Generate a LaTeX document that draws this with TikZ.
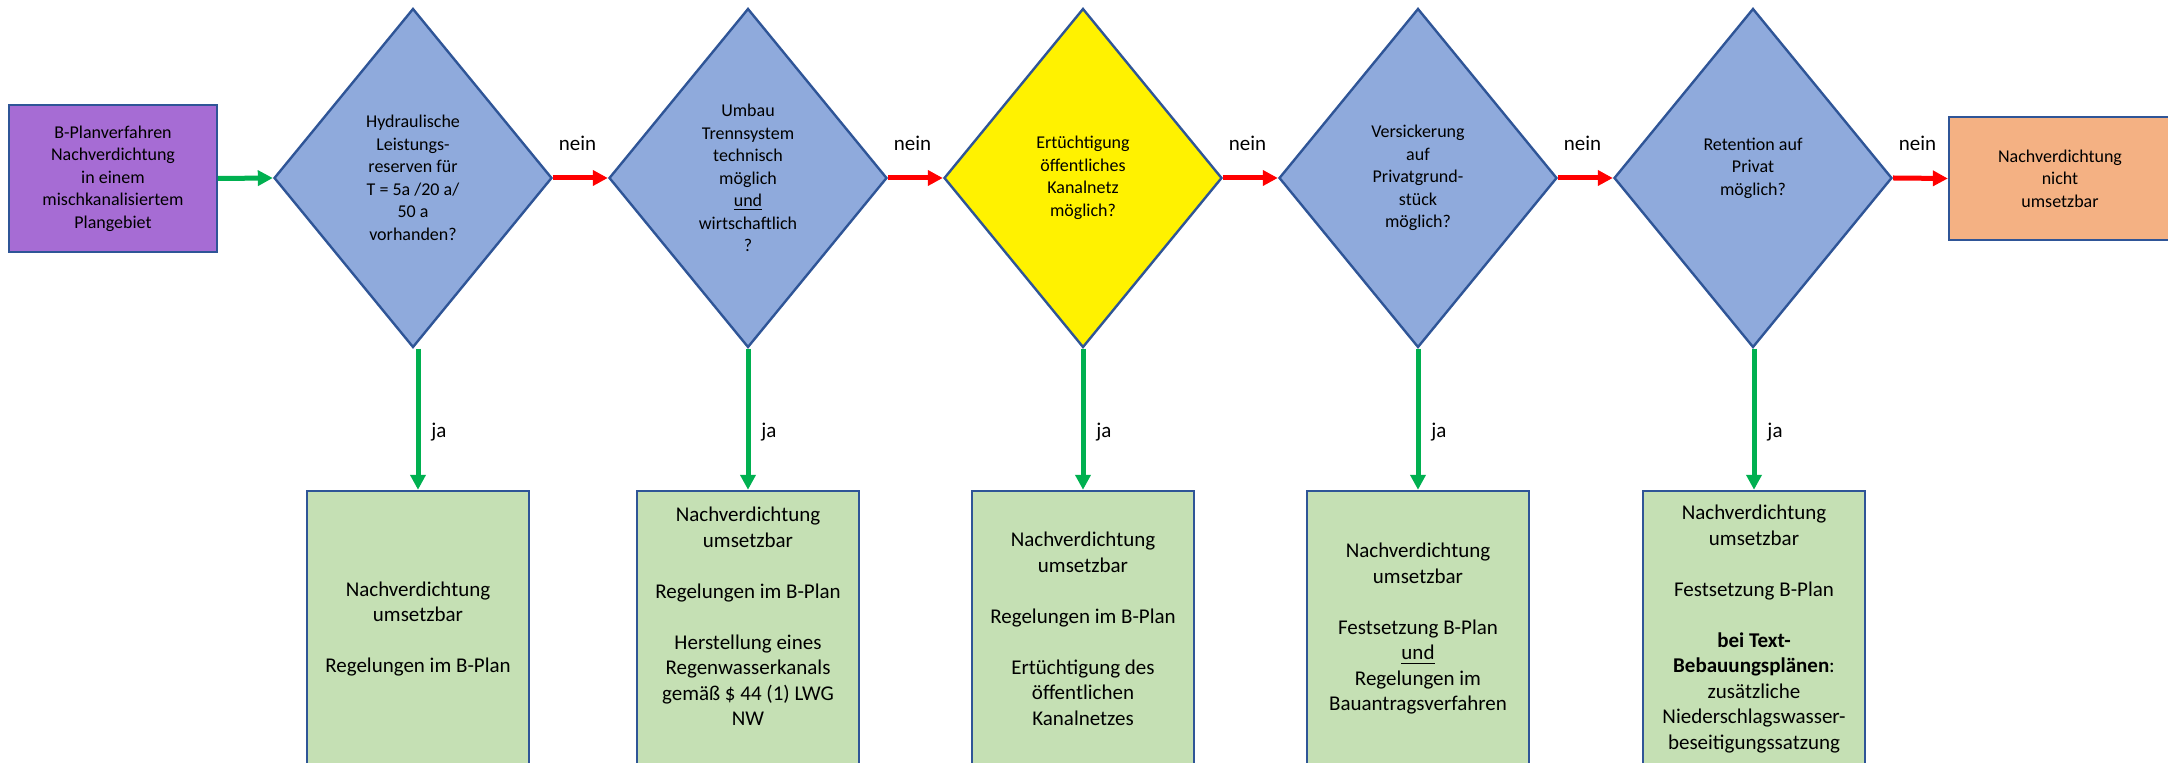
\documentclass[tikz,border=0pt]{standalone}
\usepackage{fontspec}
\setmainfont{Carlito}
\usetikzlibrary{shapes.geometric, arrows.meta}

\definecolor{rahmen}{RGB}{47,85,151}
\definecolor{frageblau}{RGB}{143,170,220}
\definecolor{startlila}{RGB}{166,108,212}
\definecolor{okgruen}{RGB}{197,224,180}
\definecolor{endorange}{RGB}{244,177,131}
\definecolor{pfeilgruen}{RGB}{0,176,80}
\definecolor{pfeilrot}{RGB}{255,0,0}

\begin{document}
\begin{tikzpicture}[x = 0.5pt, y = -0.5pt,
	frage/.style = {diamond, draw = rahmen, line width = 1.2pt, fill = frageblau, aspect = 0.82, inner sep = 0pt, minimum width = 139pt, minimum height = 169.5pt, align = center, font = \fontsize{9}{11.25}\selectfont},
	ergebnis/.style = {rectangle, draw = rahmen, line width = 1.2pt, fill = okgruen, minimum width = 111pt, minimum height = 138pt, align = center, font = \fontsize{10.5}{12.75}\selectfont},
	ja/.style = {draw = pfeilgruen, line width = 2.5pt, -{Triangle[length = 7.5pt, width = 7.5pt]}},
	nein/.style = {draw = pfeilrot, line width = 2.5pt, -{Triangle[length = 7.5pt, width = 7.5pt]}},
	neinlbl/.style = {midway, xshift = -1.5pt, yshift = 17.5pt, font = \fontsize{10.5}{12.75}\selectfont},
	jalbl/.style = {midway, xshift = 10.5pt, yshift = -6.5pt, font = \fontsize{10.5}{12.75}\selectfont}]
	\useasboundingbox (0, 0) rectangle (2168, 763);

	\node [rectangle, draw = rahmen, line width = 1.2pt, fill = startlila, minimum width = 104pt, minimum height = 73.5pt, align = center, font = \fontsize{9}{11.25}\selectfont] (start) at (113, 178.5) {B-Planverfahren\\Nachverdichtung\\in einem\\mischkanalisiertem\\Plangebiet};

	\node [frage] (hydraulik) at (413, 178) {Hydraulische\\Leistungs-\\reserven für\\T = 5a /20 a/\\50 a\\vorhanden?};
	\node [frage] (umbau) at (748, 178) {Umbau\\Trennsystem\\technisch\\möglich\\\underline{und}\\wirtschaftlich\\?};
	\node [frage, fill = yellow] (kanalnetz) at (1083, 178) {Ertüchtigung\\öffentliches\\Kanalnetz\\möglich?};
	\node [frage] (versickerung) at (1418, 178) {Versickerung\\auf\\Privatgrund-\\stück\\möglich?};
	\node [frage] (retention) at (1753, 178) {Retention auf\\Privat\\möglich?\\~};

	\node [rectangle, draw = rahmen, line width = 1.2pt, fill = endorange, minimum width = 111pt, minimum height = 61.5pt, align = center, font = \fontsize{9}{11.25}\selectfont] (nicht) at (2060, 178.5) {Nachverdichtung\\nicht\\umsetzbar};

	\node [ergebnis] (erg1) at (418, 629) {Nachverdichtung\\umsetzbar\\[12.75pt]Regelungen im B-Plan};
	\node [ergebnis] (erg2) at (748, 629) {Nachverdichtung\\umsetzbar\\[12.75pt]Regelungen im B-Plan\\[12.75pt]Herstellung eines\\Regenwasserkanals\\gemäß \$ 44 (1) LWG\\NW\\~};
	\node [ergebnis] (erg3) at (1083, 629) {Nachverdichtung\\umsetzbar\\[12.75pt]Regelungen im B-Plan\\[12.75pt]Ertüchtigung des\\öffentlichen\\Kanalnetzes};
	\node [ergebnis] (erg4) at (1418, 629) {Nachverdichtung\\umsetzbar\\[12.75pt]Festsetzung B-Plan\\\underline{und}\\Regelungen im\\Bauantragsverfahren};
	\node [ergebnis] (erg5) at (1754, 629) {Nachverdichtung\\umsetzbar\\[12.75pt]Festsetzung B-Plan\\[12.75pt]\textbf{bei Text-}\\\textbf{Bebauungsplänen}:\\zusätzliche\\Niederschlagswasser-\\beseitigungssatzung};

	% nein - Kette
	\draw [ja] (start.east) -- (hydraulik.west);
	\draw [nein] (hydraulik.east) -- node [neinlbl] {nein} (umbau.west);
	\draw [nein] (umbau.east) -- node [neinlbl] {nein} (kanalnetz.west);
	\draw [nein] (kanalnetz.east) -- node [neinlbl] {nein} (versickerung.west);
	\draw [nein] (versickerung.east) -- node [neinlbl] {nein} (retention.west);
	\draw [nein] (retention.east) -- node [neinlbl] {nein} (nicht.west);

	% ja - Abzweige
	\draw [ja] (hydraulik.south -| erg1.north) -- node [jalbl] {ja} (erg1.north);
	\draw [ja] (umbau.south -| erg2.north) -- node [jalbl] {ja} (erg2.north);
	\draw [ja] (kanalnetz.south -| erg3.north) -- node [jalbl] {ja} (erg3.north);
	\draw [ja] (versickerung.south -| erg4.north) -- node [jalbl] {ja} (erg4.north);
	\draw [ja] (retention.south -| erg5.north) -- node [jalbl] {ja} (erg5.north);
\end{tikzpicture}
\end{document}
